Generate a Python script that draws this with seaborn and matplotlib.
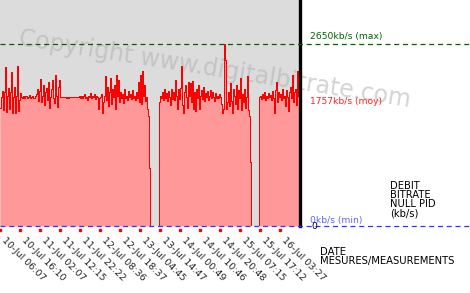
import matplotlib
matplotlib.use("Agg")
import matplotlib.pyplot as plt
import matplotlib.transforms as mtransforms
import seaborn as sns
import numpy as np
import pandas as pd

# ---------------- data (kb/s, one sample per time step) ----------------
seg1 = [1720, 1880, 1960, 1690, 1950, 2320, 1660, 1900, 2010, 1700,
        1950, 2240, 1650, 1880, 2020, 1640, 1900, 2330, 1680, 1840,
        1930, 1880, 1870, 1900, 1860, 1890, 1900, 1870, 1880, 1910,
        1860, 1880, 1900, 1870, 1860, 1890, 1920, 2000, 1820, 1960,
        2140, 1800, 1900, 2060, 1760, 1950, 2010, 1830, 2090, 1720,
        1880, 2000, 2120, 1870, 1790, 2200, 1900, 1730, 2030, 2130,
        1880, 1880, 1880, 1880, 1880, 1880, 1860, 1880, 1860, 1880,
        1880, 1880, 1880, 1880, 1880, 1880, 1880, 1880, 1880, 1890,
        1870, 1900, 1860, 1890, 1920, 1870, 1880, 1830, 1900, 1880,
        1940, 1870, 1900, 1880, 1920, 1850, 1900, 1880, 1700, 1860,
        1880, 1920, 1650, 1800, 1900, 2190, 1830, 2030, 1750, 1950,
        2150, 1780, 1990, 1880, 2060, 1700, 2200, 1900, 2120, 1800,
        1950, 1860, 1920, 1790, 1990, 1870, 1900, 1830, 1960, 1880,
        1920, 1850, 1980, 1870, 1900, 1840, 1950, 1870, 2100, 1800,
        2200, 1780, 2250, 1900, 2050, 1820, 1880, 1700, 1600, 850]
gap1 = [0, 0, 0, 0, 0, 0, 0, 0, 0]
seg2 = [1800, 1900, 1870, 1950, 1840, 1990, 1860, 1930, 1820, 1970,
        1880, 1760, 2000, 1850, 1950, 1830, 2120, 1900, 1700, 2000,
        1850, 2010, 2330, 1760, 1650, 1950, 2050, 1880, 1720, 2100,
        1900, 2080, 1800, 2110, 1700, 1950, 1680, 2000, 1860, 2050,
        1700, 1900, 1980, 1850, 2020, 1820, 1930, 1880, 1960, 1840,
        1900, 1980, 1860, 1950, 1880, 1820, 1930, 1870, 1900, 1860,
        1920, 1880, 1780, 1640, 1700, 2650, 2420, 1700, 1800, 1950,
        1750, 2080, 1820, 1650, 2000, 1900, 1780, 2050, 1700, 1980,
        1860, 2150, 1690, 1920, 1800, 2000, 1720, 1880, 2190, 1690,
        1600, 930]
gap2 = [0, 0, 0, 0, 0, 0, 0, 0]
seg3 = [1880, 1900, 1850, 1920, 1870, 1950, 1830, 1900, 1860, 1930,
        1880, 1910, 1840, 1960, 1870, 1650, 1980, 2100, 1800, 1950,
        1880, 1920, 1840, 2000, 1860, 1900, 1750, 1980, 1880, 1680,
        1950, 2020, 1860, 2200, 1800, 1950, 2000, 1760, 2260, 1900,
        1700]

tick_labels = ["10-Jul 06:07", "10-Jul 16:10", "11-Jul 02:07", "11-Jul 12:15",
               "11-Jul 22:22", "12-Jul 08:36", "12-Jul 18:37", "13-Jul 04:45",
               "13-Jul 14:47", "14-Jul 00:49", "14-Jul 10:46", "14-Jul 20:48",
               "15-Jul 07:15", "15-Jul 17:12", "16-Jul 03:27"]
tick_step = 20
val_max = 2650
val_moy = 1757
val_min = 0

values = seg1 + gap1 + seg2 + gap2 + seg3
values_ext = values + [values[-1]]
df = pd.DataFrame({"t": np.arange(len(values_ext)), "kbps": values_ext})

# ---------------- figure ----------------
W, H = 470, 293
sns.set_style("white")
fig = plt.figure(figsize=(W / 100, H / 100), dpi=100)

def fx(x):
    return x / W

def fy(y):
    return 1 - y / H

ax = fig.add_axes([0, fy(226), fx(300), 226 / H])
ax.set_facecolor("#dcdcdc")
n = len(values)
px_per_val = val_max / (226 - 44)
ymax = 226 * px_per_val
ax.set_xlim(0, n)
ax.set_ylim(0, ymax)

# watermark (behind data)
ax.text(215 / 300, 1 - 69 / 226, "Copyright www.digitalbitrate.com",
        transform=ax.transAxes, rotation=-9.0, rotation_mode="anchor",
        ha="center", va="center", fontsize=17, color="#b0b0b0", alpha=0.55,
        zorder=0.5, clip_on=False, family="DejaVu Sans")

ax.fill_between(df["t"], df["kbps"], step="post", color="#ff9999",
                linewidth=0, zorder=1)
sns.lineplot(data=df, x="t", y="kbps", drawstyle="steps-post", color="#ff0000",
             linewidth=0.7, estimator=None, antialiased=False, ax=ax, zorder=2)

# reference lines extending past plot
ext = 470 / 300
ax.axhline(val_max, xmin=0, xmax=ext, color="#006400", linewidth=0.9,
           dashes=(4, 3), clip_on=False, zorder=3)
ax.axhline(val_min, xmin=0, xmax=ext, color="#3333ff", linewidth=0.9,
           dashes=(4, 3), clip_on=False, zorder=3)

for s in ["top", "left", "bottom"]:
    ax.spines[s].set_visible(False)
ax.spines["right"].set_visible(True)
ax.spines["right"].set_color("black")
ax.spines["right"].set_linewidth(2.4)

ax.set_yticks([])
ticks = list(range(0, n, tick_step))
ax.set_xticks(ticks)
ax.set_xticklabels(tick_labels, rotation=-45, ha="left", va="top",
                   rotation_mode="anchor", fontsize=6.8, color="#222222")
ax.tick_params(axis="x", length=0, pad=7)
offset = mtransforms.ScaledTranslation(6 / 100, 0, fig.dpi_scale_trans)
for lbl in ax.get_xticklabels():
    lbl.set_transform(lbl.get_transform() + offset)
ax.plot(ticks, [-4 * px_per_val] * len(ticks), "s", ms=1.6, color="#ff0000",
        clip_on=False, zorder=4)
ax.set_xlabel("")
ax.set_ylabel("")

# right side annotations
fig.text(fx(310), fy(36.5), f"{val_max}kb/s (max)", color="#006400",
         fontsize=6.6, va="center", ha="left")
fig.text(fx(310), fy(101.5), f"{val_moy}kb/s (moy)", color="#ff2020",
         fontsize=6.6, va="center", ha="left")
fig.text(fx(310), fy(221), f"{val_min}kb/s (min)", color="#6060ff",
         fontsize=6.6, va="center", ha="left")
fig.text(fx(311), fy(226.5), "0", color="black", fontsize=6.6,
         va="center", ha="left")
fig.text(fx(390), fy(181), "DEBIT\nBITRATE\nNULL PID\n(kb/s)", color="black",
         fontsize=7.2, va="top", ha="left", linespacing=0.9)
fig.text(fx(320), fy(247), "DATE\nMESURES/MEASUREMENTS", color="black",
         fontsize=7.2, va="top", ha="left", linespacing=0.9)

fig.savefig("out.png", dpi=100)
